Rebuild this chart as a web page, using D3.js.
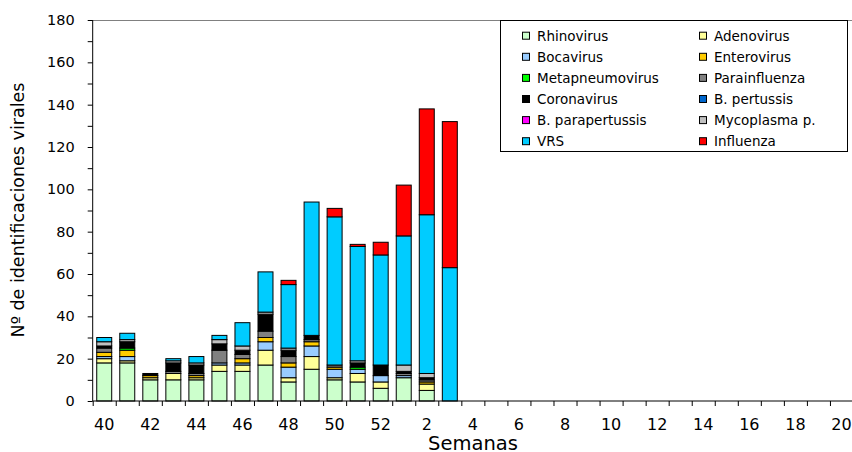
<!DOCTYPE html>
<html>
<head>
<meta charset="utf-8">
<script src="https://cdn.jsdelivr.net/npm/d3@7"></script>
<style>
  html, body { margin: 0; padding: 0; background: #fff; }
  svg { display: block; font-family: "DejaVu Sans", Verdana, sans-serif; }
</style>
</head>
<body>
<svg id="chart" width="852" height="452"></svg>
<script>
// ---- Data ----
const weeks = ["40","41","42","43","44","45","46","47","48","49","50","51","52",
  "1","2","3","4","5","6","7","8","9","10","11","12","13","14","15","16","17","18","19","20"];
const dataWeeks = ["40","41","42","43","44","45","46","47","48","49","50","51","52","1","2","3"];
const tickLabels = ["40","42","44","46","48","50","52","2","4","6","8","10","12","14","16","18","20"];
const yTicks = [0,20,40,60,80,100,120,140,160,180];

const seriesNames = ["Rhinovirus","Adenovirus","Bocavirus","Enterovirus","Metapneumovirus",
  "Parainfluenza","Coronavirus","B. pertussis","B. parapertussis","Mycoplasma p.","VRS","Influenza"];
const seriesColors = ["#CCFFCC","#FFFF99","#99CCFF","#FFCC00","#00FF00",
  "#808080","#000000","#0066CC","#FF00FF","#C0C0C0","#00CCFF","#FF0000"];

const rhinovirus      = [18,18,10,10,10,14,14,17, 9,15,10, 9, 6,11, 5, 0];
const adenovirus      = [ 2, 1, 1, 3, 1, 3, 3, 7, 2, 6, 1, 4, 3, 0, 3, 0];
const bocavirus       = [ 1, 2, 0, 0, 0, 1, 1, 4, 5, 5, 4, 2, 3, 1, 0, 0];
const enterovirus     = [ 2, 3, 1, 0, 1, 0, 2, 2, 2, 2, 1, 0, 0, 0, 1, 0];
const metapneumovirus = [ 0, 1, 0, 0, 0, 0, 0, 0, 0, 0, 0, 1, 0, 0, 0, 0];
const parainfluenza   = [ 2, 0, 0, 1, 1, 6, 2, 3, 3, 1, 1, 0, 0, 1, 1, 0];
const coronavirus     = [ 1, 3, 1, 4, 4, 3, 2, 8, 3, 2, 0, 2, 5, 1, 1, 0];
const bPertussis      = [ 0, 0, 0, 0, 0, 0, 0, 0, 0, 0, 0, 0, 0, 0, 0, 0];
const bParapertussis  = [ 0, 0, 0, 0, 0, 0, 0, 0, 0, 0, 0, 0, 0, 0, 0, 0];
const mycoplasma      = [ 2, 1, 0, 1, 1, 2, 2, 1, 1, 0, 0, 1, 0, 3, 2, 0];
const vrs             = [ 2, 3, 0, 1, 3, 2,11,19,30,63,70,54,52,61,75,63];
const influenza       = [ 0, 0, 0, 0, 0, 0, 0, 0, 2, 0, 4, 1, 6,24,50,69];

const seriesValues = [rhinovirus, adenovirus, bocavirus, enterovirus, metapneumovirus,
  parainfluenza, coronavirus, bPertussis, bParapertussis, mycoplasma, vrs, influenza];

(function () {
  // ---- Build table ----
  const table = dataWeeks.map((w, i) => {
    const row = { week: w };
    seriesNames.forEach((s, j) => { row[s] = seriesValues[j][i]; });
    return row;
  });
  const stacked = d3.stack().keys(seriesNames)(table);

  // ---- Layout ----
  const svg = d3.select("#chart");
  const pL = 92.7, pR = 853, pT = 20, pB = 401;

  const x = d3.scaleBand().domain(weeks).range([pL, pR])
    .paddingInner(0.35).paddingOuter(0.175);
  const xBound = d3.scaleLinear().domain([0, weeks.length]).range([pL, pR]);
  const y = d3.scaleLinear().domain([0, 180]).range([pB, pT]);
  const color = d3.scaleOrdinal().domain(seriesNames).range(seriesColors);

  // top border of plot area
  svg.append("line").attr("x1", pL).attr("x2", 852).attr("y1", pT + 0.5).attr("y2", pT + 0.5)
    .attr("stroke", "#808080").attr("stroke-width", 1);

  // bars
  svg.append("g").selectAll("g").data(stacked).join("g")
    .attr("fill", d => color(d.key))
    .selectAll("rect").data(d => d.filter(p => p[1] - p[0] > 0)).join("rect")
    .attr("x", d => x(d.data.week))
    .attr("width", x.bandwidth())
    .attr("y", d => y(d[1]))
    .attr("height", d => y(d[0]) - y(d[1]))
    .attr("stroke", "#000").attr("stroke-width", 1);

  // y axis
  const yMinor = d3.range(0, 181, 10);
  const gy = svg.append("g").attr("transform", `translate(${pL},0)`);
  gy.call(d3.axisLeft(y).tickValues(yMinor).tickSize(5).tickFormat(""));
  gy.select(".domain").attr("d", `M0,${pT}V${pB}`).attr("stroke", "#000");
  gy.selectAll("line").attr("stroke", "#000");
  const gyl = svg.append("g").attr("transform", `translate(${pL},0)`);
  gyl.call(d3.axisLeft(y).tickValues(yTicks).tickSize(0).tickPadding(18));
  gyl.select(".domain").remove();
  gyl.selectAll("text").attr("font-size", "14.5px").attr("fill", "#000")
    .attr("font-family", "DejaVu Sans, Verdana, sans-serif");

  // x axis
  const gx = svg.append("g").attr("transform", `translate(0,${pB})`);
  gx.call(d3.axisBottom(xBound).tickValues(d3.range(0, weeks.length + 1)).tickSize(5).tickFormat(""));
  gx.select(".domain").attr("d", `M${pL},0H852`).attr("stroke", "#000");
  gx.selectAll("line").attr("stroke", "#000");
  const gxl = svg.append("g").attr("transform", `translate(0,${pB})`);
  gxl.call(d3.axisBottom(x).tickValues(tickLabels).tickSize(0).tickPadding(18));
  gxl.select(".domain").remove();
  gxl.selectAll("text").attr("font-size", "16px").attr("fill", "#000")
    .attr("font-family", "DejaVu Sans, Verdana, sans-serif");

  // axis titles
  svg.append("text").attr("x", 473).attr("y", 450).attr("text-anchor", "middle")
    .attr("font-size", "19.5px").text("Semanas");
  svg.append("text").attr("transform", "translate(24,210) rotate(-90)")
    .attr("text-anchor", "middle").attr("font-size", "17.5px")
    .text("Nº de identificaciones virales");

  // legend
  const lg = svg.append("g");
  lg.append("rect").attr("x", 500.5).attr("y", 20.5).attr("width", 347).attr("height", 131)
    .attr("fill", "#fff").attr("stroke", "#000").attr("stroke-width", 1);
  const colX = [522, 699];
  const items = lg.selectAll("g.item").data(seriesNames).join("g").attr("class", "item")
    .attr("transform", (d, i) => `translate(${colX[i % 2]},${35.7 + Math.floor(i / 2) * 21.1})`);
  items.append("rect").attr("x", 0.5).attr("y", -3.5).attr("width", 7).attr("height", 7)
    .attr("fill", d => color(d)).attr("stroke", "#000").attr("stroke-width", 1);
  items.append("text").attr("x", 15).attr("y", 0).attr("dy", "0.36em")
    .attr("font-size", "13.5px").text(d => d);
})();
</script>
</body>
</html>
